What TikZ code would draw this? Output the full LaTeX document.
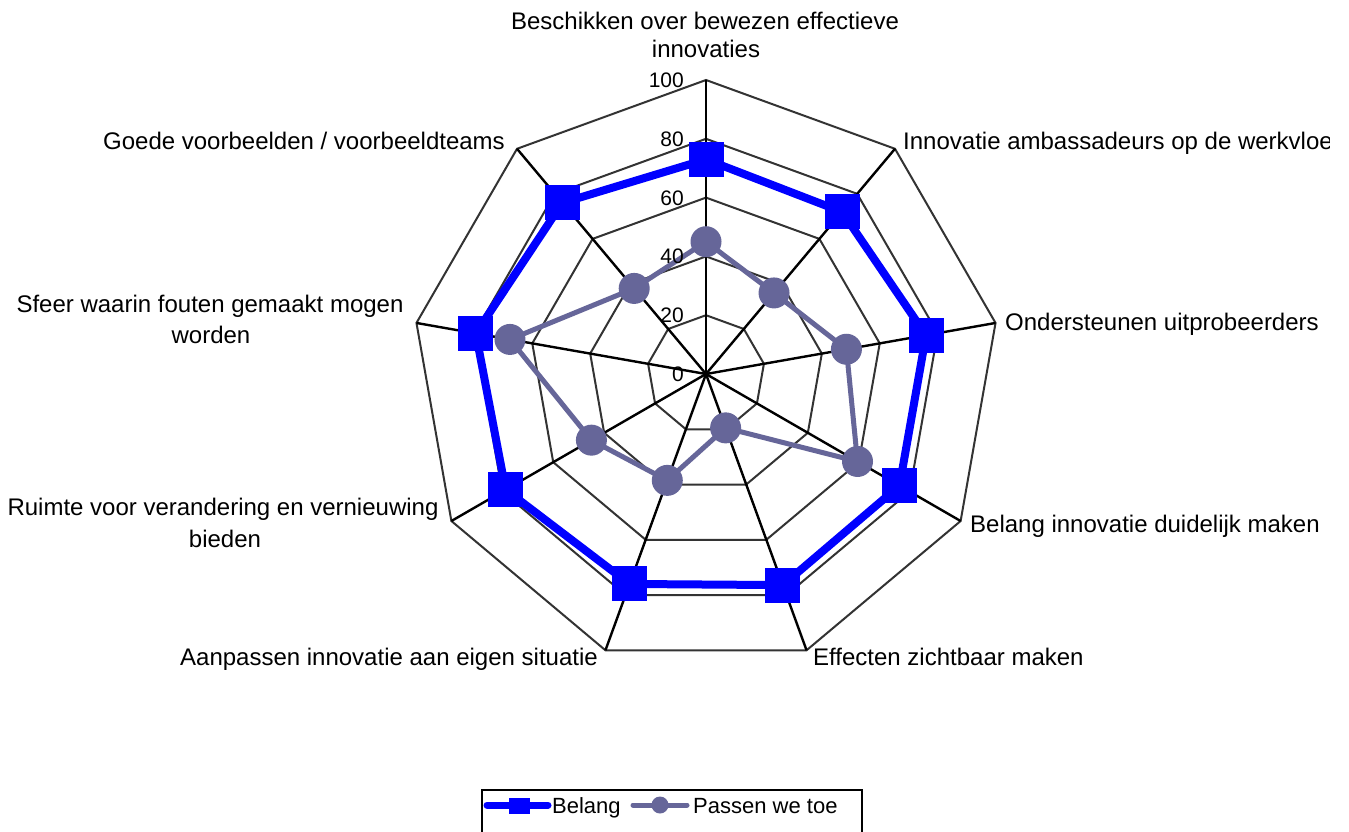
\documentclass[tikz,border=0pt]{standalone}
\usepackage{fontspec}
\setmainfont{Liberation Sans}
\definecolor{belangblue}{HTML}{0000FF}
\definecolor{passen}{HTML}{666699}
\definecolor{ringgray}{HTML}{333333}
\tikzset{
  ring/.style={draw=ringgray, line width=2pt, line join=miter},
  spoke/.style={draw=black, line width=2.4pt},
  belangline/.style={draw=belangblue, line width=8pt, line join=round},
  passenline/.style={draw=passen, line width=5pt, line join=round},
  sqmark/.style={fill=belangblue, draw=none, minimum size=35pt, inner sep=0pt, rectangle},
  circmark/.style={fill=passen, draw=none, minimum size=31pt, inner sep=0pt, circle},
  lbl/.style={font=\fontsize{24}{28}\selectfont, inner sep=0pt, text=black},
  tick/.style={font=\fontsize{21}{25}\selectfont, inner sep=0pt, anchor=base east},
  legtxt/.style={font=\fontsize{22}{26}\selectfont, inner sep=0pt, anchor=base west},
}
\begin{document}
\begin{tikzpicture}[x=1pt,y=-1pt]
\useasboundingbox (0,0) rectangle (1349,831);
\clip (0,0) rectangle (1329,831);
\fill[white] (0,0) rectangle (1349,831);
\begin{scope}[shift={(706,374)}, yscale=-1]
  % grid rings
  \foreach \v in {20,40,60,80,100}
    \draw[ring] (90:{\v*2.94}) \foreach \k in {1,...,8}{ -- ({90-40*\k}:{\v*2.94})} -- cycle;
  % spokes
  \coordinate (ctr) at (0,0);
  \foreach \k in {0,...,8}{
    \coordinate (ax\k) at ({90-40*\k}:294);
    \draw[spoke] (ctr) -- (ax\k);
  }
  % data
  \foreach \k/\v in {0/73,1/72,2/76,3/76,4/76.4,5/76,6/78.7,7/79.5,8/76}
    \coordinate (b\k) at ({90-40*\k}:{\v*2.94});
  \foreach \k/\v in {0/45,1/36,2/48.5,3/59.5,4/19.5,5/38.5,6/45,7/67.7,8/38}
    \coordinate (p\k) at ({90-40*\k}:{\v*2.94});
  \draw[belangline] (b0) -- (b1) -- (b2) -- (b3) -- (b4) -- (b5) -- (b6) -- (b7) -- (b8) -- cycle;
  \foreach \k in {0,...,8} \node[sqmark] (bm\k) at (b\k) {};
  \draw[passenline] (p0) -- (p1) -- (p2) -- (p3) -- (p4) -- (p5) -- (p6) -- (p7) -- (p8) -- cycle;
  \foreach \k in {0,...,8} \node[circmark] (pm\k) at (p\k) {};
\end{scope}
% tick labels
\node[tick] (t0) at (684,381) {0};
\node[tick] (t20) at (684,322) {20};
\node[tick] (t40) at (684,263) {40};
\node[tick] (t60) at (684,205) {60};
\node[tick] (t80) at (684,146) {80};
\node[tick] (t100) at (684,87) {100};
% axis labels
\node[lbl, anchor=base] (l0a) at (705,29) {Beschikken over bewezen effectieve};
\node[lbl, anchor=base] (l0b) at (706,57) {innovaties};
\node[lbl, anchor=base west] (l1) at (903,149) {Innovatie ambassadeurs op de werkvloer};
\node[lbl, anchor=base west] (l2) at (1005,330) {Ondersteunen uitprobeerders};
\node[lbl, anchor=base west] (l3) at (970,532) {Belang innovatie duidelijk maken};
\node[lbl, anchor=base west] (l4) at (813,665) {Effecten zichtbaar maken};
\node[lbl, anchor=base east] (l5) at (598,665) {Aanpassen innovatie aan eigen situatie};
\node[lbl, anchor=base] (l6a) at (223,515) {Ruimte voor verandering en vernieuwing};
\node[lbl, anchor=base] (l6b) at (225,547) {bieden};
\node[lbl, anchor=base] (l7a) at (210,312) {Sfeer waarin fouten gemaakt mogen};
\node[lbl, anchor=base] (l7b) at (211,343) {worden};
\node[lbl, anchor=base east] (l8) at (505,149) {Goede voorbeelden / voorbeeldteams};
% legend
\draw[black, line width=2pt] (482,790) rectangle (862,850);
\coordinate (lb1) at (487,805);
\coordinate (lb2) at (548,805);
\draw[draw=belangblue, line width=7pt, line cap=round] (lb1) -- (lb2);
\node[fill=belangblue, minimum width=21pt, minimum height=16pt, inner sep=0pt] (lbm) at (519,806) {};
\node[legtxt] (lbt) at (552,813) {Belang};
\coordinate (lp1) at (633,805);
\coordinate (lp2) at (687,805);
\draw[draw=passen, line width=5pt, line cap=round] (lp1) -- (lp2);
\node[circle, fill=passen, minimum size=17pt, inner sep=0pt] (lpm) at (660,805) {};
\node[legtxt] (lpt) at (693,813) {Passen we toe};
\end{tikzpicture}
\end{document}
